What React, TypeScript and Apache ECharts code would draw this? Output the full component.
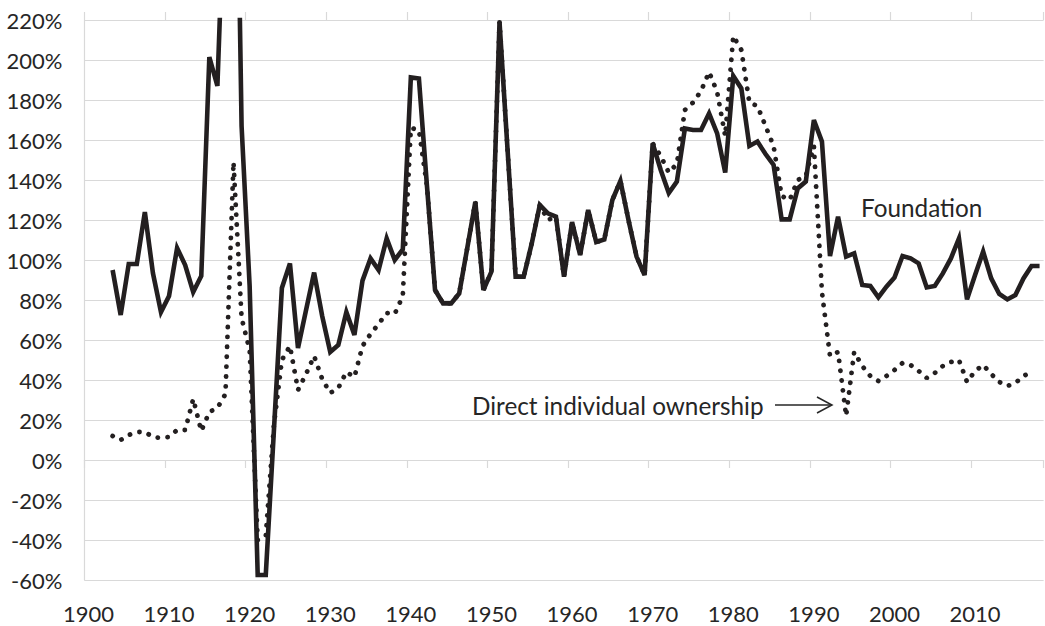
import React, { useEffect, useRef } from "react";
import * as echarts from "echarts";

const firstYear = 1900;
const yearCount = 119;
const years: string[] = Array.from({ length: yearCount }, (_, i) => String(firstYear + i));

// Foundation (solid line), % per year 1900..2018
const foundation: (number | null)[] = [
  null, null, null,
  95, 72.5, 98, 98, 124, 93.5, 74, 82, 106, 97.5, 84, 92, 201.5, 187, 300, 420, 167, 87,
  -57.5, -57.5, 14, 86, 98.3, 56, 75, 93.7, 72, 54,
  57.5, 74, 62.5, 89.7, 100.8, 95, 110.8, 100, 105.3, 191.3,
  190.7, 137, 85, 78.3, 78.3, 83.3, 106, 129, 85, 94.2,
  219, 155, 91.7, 91.7, 108.3, 127.5, 123.3, 121.7, 91.7, 119,
  102.5, 125, 109, 110.3, 130, 139.5, 120, 101.7, 92.5, 158.3,
  145, 133.5, 139.2, 165.8, 165, 165, 173.3, 163.3, 143.7, 192,
  185.8, 157, 159.2, 153, 147.5, 120.3, 120.3, 135.8, 139.2, 170,
  159.2, 102, 121.7, 101.7, 103.3, 87.5, 87, 81.3, 86.7, 91.2,
  102, 100.8, 98.3, 86.3, 87, 93.3, 100.8, 110.8, 80.3, 92.5,
  104.2, 90.8, 83, 80.3, 82.5, 90.8, 97, 97,
];

// Direct individual ownership (dotted line), % per year 1900..2018
const directOwnership: (number | null)[] = [
  null, null, null,
  12, 10, 12.5, 14, 14, 11.5, 11, 11.5, 15, 15, 30.5, 14.5, 24, 26, 33, 149, 71, 55,
  -40, -38, 17, 50, 57, 35, 43, 52, 40.5, 33.5,
  36, 44, 41.5, 57, 63, 68, 73.5, 73, 82, 166,
  165, 137, 85, 78.3, 78.3, 83.3, 106, 129, 85, 94.2,
  219, 155, 91.7, 91.7, 108.3, 127.5, 120, 121.7, 91.7, 119,
  102.5, 125, 109, 110.3, 130, 139.5, 120, 101.7, 92.5, 158.3,
  152, 143.7, 148, 175, 178.7, 184.5, 194, 184, 162, 212,
  205, 178.7, 177, 167, 157, 132, 130, 140, 142, 157,
  84, 52, 54, 22, 54, 47, 42, 39.5, 42, 45,
  48.5, 47.5, 44.5, 41, 43.5, 47, 49, 50, 39, 44.5,
  47.5, 43, 39, 37, 38.5, 42, 44, null,
];

const yMin = -60;
const yMax = 220;
const yStep = 20;
const labelEvery = 10;

const foundationLabel = "Foundation";
const directLabel = "Direct individual ownership";

const FONT = "Lato, 'Open Sans', sans-serif";
const TEXT = "#262626";
const GRID = "#d9d9d9";
const INK = "#231f20";

export default function App() {
  const ref = useRef<HTMLDivElement>(null);

  useEffect(() => {
    if (!ref.current) return;
    const chart = echarts.init(ref.current, undefined, { renderer: "svg" });
    const tickAxisBase = {
      type: "category" as const,
      data: years,
      boundaryGap: true,
      axisLabel: { show: false },
      splitLine: { show: false },
    };
    chart.setOption({
      animation: false,
      grid: { left: 84.4, right: 1.4, top: 20, bottom: 46, containLabel: false },
      xAxis: [
        {
          type: "category",
          data: years,
          boundaryGap: true,
          position: "bottom",
          axisLine: { show: false, onZero: false },
          axisTick: { show: false },
          splitLine: { show: false },
          axisLabel: {
            interval: labelEvery - 1,
            margin: 22,
            fontFamily: FONT,
            fontSize: 22,
            color: TEXT,
          },
        },
        {
          ...tickAxisBase,
          position: "bottom",
          axisLine: { show: true, onZero: true, lineStyle: { color: GRID, width: 1.2 } },
          axisTick: {
            show: true,
            interval: labelEvery - 1,
            length: 8,
            inside: false,
            lineStyle: { color: GRID, width: 1.2 },
          },
        },
        {
          ...tickAxisBase,
          position: "top",
          axisLine: { show: false, onZero: true },
          axisTick: {
            show: true,
            interval: labelEvery - 1,
            length: 8,
            inside: false,
            lineStyle: { color: GRID, width: 1.2 },
          },
        },
      ],
      yAxis: {
        type: "value",
        min: yMin,
        max: yMax,
        interval: yStep,
        axisLine: { show: true, onZero: false, lineStyle: { color: GRID, width: 1.2 } },
        axisTick: { show: false },
        splitLine: { show: true, lineStyle: { color: GRID, width: 1.2 } },
        axisLabel: {
          formatter: "{value}%",
          margin: 22,
          fontFamily: FONT,
          fontSize: 22,
          color: TEXT,
        },
      },
      series: [
        {
          name: directLabel,
          type: "line",
          xAxisIndex: 0,
          data: directOwnership,
          symbol: "none",
          connectNulls: false,
          clip: true,
          lineStyle: { color: INK, width: 4.8, type: [0.1, 9.8], cap: "round" },
          z: 2,
        },
        {
          name: foundationLabel,
          type: "line",
          xAxisIndex: 0,
          data: foundation,
          symbol: "none",
          connectNulls: false,
          clip: true,
          lineStyle: { color: INK, width: 4.6, join: "miter" },
          z: 3,
        },
      ],
      graphic: [
        {
          type: "text",
          x: 861,
          y: 207.5,
          style: {
            text: foundationLabel,
            fill: TEXT,
            fontFamily: FONT,
            fontSize: 24.3,
            verticalAlign: "middle",
            align: "left",
          },
        },
        {
          type: "text",
          x: 472,
          y: 405.5,
          style: {
            text: directLabel,
            fill: TEXT,
            fontFamily: FONT,
            fontSize: 24.3,
            verticalAlign: "middle",
            align: "left",
          },
        },
        {
          type: "line",
          shape: { x1: 775, y1: 405, x2: 831, y2: 405 },
          style: { stroke: TEXT, lineWidth: 1.5 },
        },
        {
          type: "polyline",
          shape: { points: [[817, 397], [832, 405], [817, 413]] },
          style: { stroke: TEXT, lineWidth: 1.5, fill: null },
        },
      ],
    });
    return () => chart.dispose();
  }, []);

  return (
    <div
      ref={ref}
      style={{ position: "fixed", left: 0, top: 0, width: 1045, height: 626, background: "#fff" }}
    />
  );
}
